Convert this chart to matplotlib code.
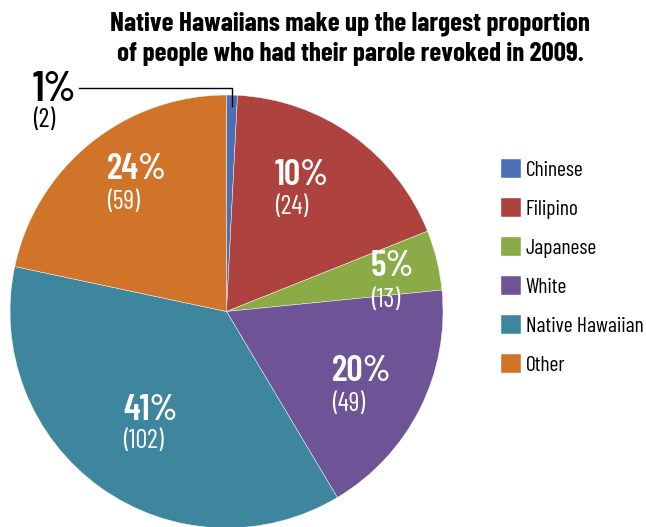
import matplotlib
matplotlib.use("Agg")
import matplotlib.pyplot as plt

plt.rcParams['font.family'] = ['Barlow Condensed', 'DejaVu Sans']

groups = ["Chinese", "Filipino", "Japanese", "White", "Native Hawaiian", "Other"]
counts = [2, 24, 13, 49, 102, 59]
percents = ["1%", "10%", "5%", "20%", "41%", "24%"]
# slice sizes as drawn in the original graphic (share of circle, %)
slice_share = [0.81, 18.14, 4.47, 18.03, 36.89, 21.67]
colors = ["#4a6fb3", "#ad423f", "#8bab46", "#6e5497", "#3d869e", "#cf7429"]

# label anchor (left x, percent y, count y) in pie data units
label_pos = [(-0.894, 1.023, 0.885),
             (0.224, 0.630, 0.483),
             (0.667, 0.206, 0.053),
             (0.487, -0.279, -0.427),
             (-0.478, -0.455, -0.598),
             (-0.552, 0.654, 0.506)]

fig = plt.figure(figsize=(6.46, 5.27), dpi=100)
ax = fig.add_axes([0.0155, -0.0019, 0.6703, 0.8216])

wedges, _ = ax.pie(slice_share, colors=colors, startangle=90, counterclock=False,
                   wedgeprops=dict(edgecolor="white", linewidth=0.3))
ax.set_xlim(-1, 1)
ax.set_ylim(-1, 1)
ax.set_aspect("equal")

for i, (x, yp, yc) in enumerate(label_pos):
    c = "black" if i == 0 else "white"
    ax.text(x, yp, percents[i], color=c, fontsize=30 if i == 0 else 26,
            fontweight="semibold", ha="left", va="center")
    ax.text(x, yc, "(%d)" % counts[i], color=c, fontsize=19,
            ha="left", va="center")

# leader line for the tiny Chinese slice
ax.plot([-0.681, 0.025, 0.025], [1.032, 1.032, 0.949], color="black",
        lw=1, clip_on=False)

fig.text(0.542, 0.926, "Native Hawaiians make up the largest proportion\n"
         "of people who had their parole revoked in 2009.",
         ha="center", va="center", fontsize=19.5, fontweight="bold",
         linespacing=1.3)

fig.legend(wedges, groups, loc="upper left", bbox_to_anchor=(0.7755, 0.698),
           frameon=False, fontsize=15.5, labelspacing=0.85, borderpad=0,
           borderaxespad=0, handlelength=0.95, handleheight=0.95,
           handletextpad=0.2)

fig.savefig("out.png", dpi=100)
